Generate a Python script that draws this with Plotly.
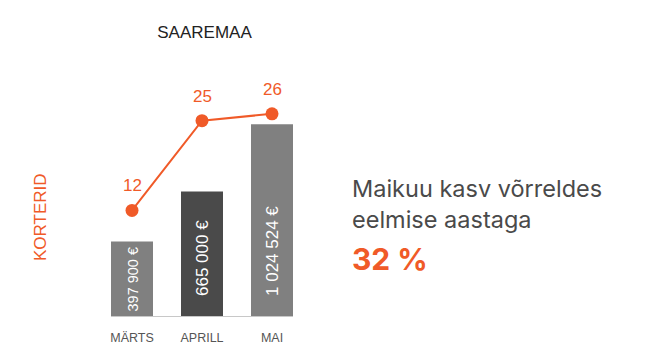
import plotly.graph_objects as go

months = ["MÄRTS", "APRILL", "MAI"]
prices = [397900, 665000, 1024524]
apartments = [12, 25, 26]
title_text = "SAAREMAA"
axis_label = "KORTERID"
note_lines = ["Maikuu kasv võrreldes", "eelmise aastaga"]
growth_text = "32 %"

ORANGE = "#f05a28"
W, H = 645, 364
OFF = 8  # page body margin
L, R, T, B = 111 - OFF, 293 - OFF, 100 - OFF, 316 - OFF


def px(x):
    return (x - OFF - L) / (R - L)


def py(y):
    return (B - (y - OFF)) / (B - T)


def fmt(v):
    return f"{v:,}".replace(",", " ") + " €"


fig = go.Figure()
fig.add_trace(go.Bar(
    x=months, y=prices, width=0.6,
    marker=dict(color=["#808080", "#4a4a4a", "#808080"], line=dict(width=0)),
    hoverinfo="skip", yaxis="y",
))
fig.add_trace(go.Scatter(
    x=months, y=apartments, mode="lines+markers", yaxis="y2",
    line=dict(color=ORANGE, width=2),
    marker=dict(color=ORANGE, size=13),
    hoverinfo="skip",
))

annotations = []
bar_sizes = [14.5, 17, 17]
bar_shifts = [2, 18, 18]
for m, v, s, sh in zip(months, prices, bar_sizes, bar_shifts):
    annotations.append(dict(
        x=m, y=0, xref="x", yref="y", text=fmt(v), textangle=-90,
        showarrow=False, xanchor="center", yanchor="bottom", yshift=sh,
        font=dict(family="Liberation Sans, Arial", size=s, color="white"),
    ))
for m, v in zip(months, apartments):
    annotations.append(dict(
        x=m, y=v, xref="x", yref="y2", text=str(v), showarrow=False,
        xanchor="center", yanchor="bottom", yshift=13,
        font=dict(family="Liberation Sans, Arial", size=17, color=ORANGE),
    ))
annotations.append(dict(
    x=px(40), y=py(217), xref="paper", yref="paper", text=axis_label,
    textangle=-90, showarrow=False, xanchor="center", yanchor="middle",
    font=dict(family="Liberation Sans, Arial", size=17, color=ORANGE),
))
annotations.append(dict(
    x=px(350), y=py(188), xref="paper", yref="paper", text=note_lines[0],
    showarrow=False, xanchor="left", yanchor="middle", align="left",
    font=dict(family="Inter", size=23.5, color="#4a4a4a"),
))
annotations.append(dict(
    x=px(350), y=py(219), xref="paper", yref="paper", text=note_lines[1],
    showarrow=False, xanchor="left", yanchor="middle", align="left",
    font=dict(family="Inter", size=23.5, color="#4a4a4a"),
))
annotations.append(dict(
    x=px(350), y=py(259), xref="paper", yref="paper", text=f"<b>{growth_text}</b>",
    showarrow=False, xanchor="left", yanchor="middle", align="left",
    font=dict(family="Inter", size=30, color=ORANGE),
))

fig.update_layout(
    width=W, height=H,
    margin=dict(l=L, r=W - R, t=T, b=H - B, pad=0),
    paper_bgcolor="white", plot_bgcolor="white",
    showlegend=False,
    title=dict(text=title_text, x=(204.5 - OFF) / W, xref="container", xanchor="center",
               y=1 - (32 - OFF) / H, yref="container", yanchor="middle",
               font=dict(family="Liberation Sans, Arial", size=17, color="#222222")),
    xaxis=dict(range=[-0.3, 2.3], showline=True, linecolor="#c8c8c8", linewidth=1,
               showgrid=False, zeroline=False, ticks="", ticklabelstandoff=10,
               tickfont=dict(family="Liberation Sans, Arial", size=12.5, color="#555555")),
    yaxis=dict(range=[0, 1154400], visible=False, showgrid=False, zeroline=False),
    yaxis2=dict(range=[-3.3, 28], overlaying="y", visible=False, showgrid=False, zeroline=False),
    annotations=annotations,
)

fig.write_html("out.html")
